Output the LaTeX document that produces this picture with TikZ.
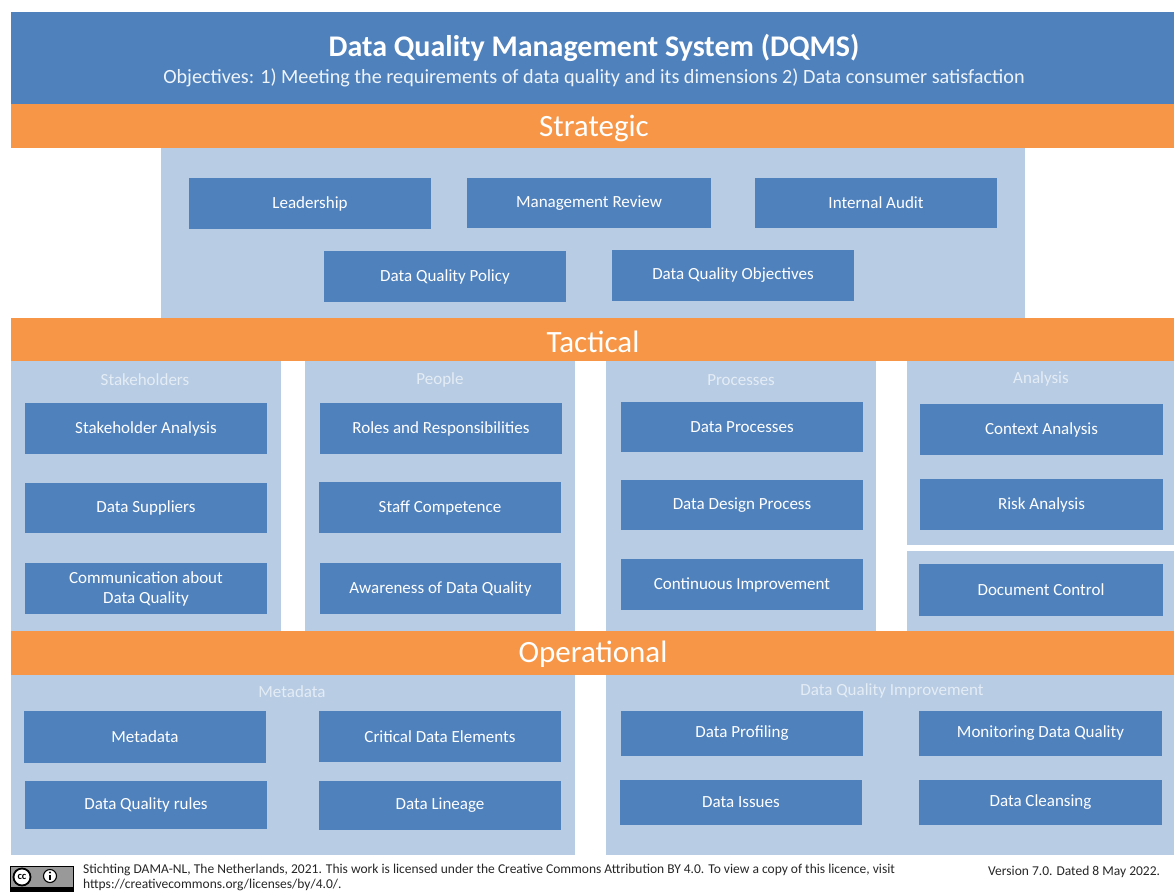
\documentclass[tikz,border=0pt]{standalone}
\usepackage{fontspec}
\setmainfont{Carlito}
\definecolor{hdrblue}{HTML}{4F81BD}
\definecolor{panelblue}{HTML}{B8CCE4}
\definecolor{bandorange}{HTML}{F79646}
\definecolor{labeltxt}{HTML}{E4ECF5}
\tikzset{
  rectbase/.style={draw=none,inner sep=0pt,outer sep=0pt,align=center,text=white},
  bluebox/.style={rectbase,fill=hdrblue,font=\fontsize{17}{20}\selectfont},
  panel/.style={rectbase,fill=panelblue},
  band/.style={rectbase,fill=bandorange},
  bandlabel/.style={inner sep=0pt,text=white,font=\fontsize{31}{34}\selectfont},
  panellabel/.style={inner sep=0pt,text=labeltxt,font=\fontsize{17}{20}\selectfont},
  foot/.style={inner sep=0pt,anchor=base west,text=black!85,font=\fontsize{13.5}{15}\selectfont},
}
\newcommand{\rbox}[7][]{%
  \pgfmathsetmacro{\cxx}{(#4+#6)/2}\pgfmathsetmacro{\cyy}{(#5+#7)/2}
  \pgfmathsetmacro{\wxx}{#6-#4}\pgfmathsetmacro{\hyy}{#7-#5}
  \node[#3,minimum width=\wxx pt,minimum height=\hyy pt,#1] (#2) at (\cxx,\cyy)}
\begin{document}
\begin{tikzpicture}[x=1pt,y=-1pt]
\useasboundingbox (0,0) rectangle (1174,891);
\clip (0,0) rectangle (1174,891);
% header
\rbox{hdr}{rectbase,fill=hdrblue}{11}{12}{1174}{104} {};
\node[inner sep=0pt,text=white,font=\bfseries\fontsize{30}{32}\selectfont] (title) at (594,48) {Data Quality Management System (DQMS)};
\node[inner sep=0pt,text=labeltxt!60!white,font=\fontsize{20.2}{22}\selectfont] (subtitle) at (594,78) {Objectives: 1) Meeting the requirements of data quality and its dimensions 2) Data consumer satisfaction};
% panels
\rbox{pstrat}{panel}{161}{148}{1025}{318} {};
\rbox{pstake}{panel}{11}{361}{281}{631} {};
\rbox{ppeople}{panel}{305}{361}{575}{631} {};
\rbox{pproc}{panel}{606}{361}{876}{631} {};
\rbox{panal}{panel}{907}{361}{1174}{545} {};
\rbox{pdoc}{panel}{907}{551}{1174}{631} {};
\rbox{pmeta}{panel}{11}{675}{575}{855} {};
\rbox{pdqi}{panel}{606}{675}{1174}{855} {};
% bands
\rbox{bstrat}{band}{11}{104}{1174}{148} {};
\node[bandlabel] (lstrat) at (594,128) {Strategic};
\rbox{btact}{band}{11}{318}{1174}{361} {};
\node[bandlabel] (ltact) at (593,342) {Tactical};
\rbox{bop}{band}{11}{631}{1174}{675} {};
\node[bandlabel] (lop) at (593,654) {Operational};
% panel labels
\node[panellabel] (t1) at (145,380) {Stakeholders};
\node[panellabel] (t2) at (440,380) {People};
\node[panellabel] (t3) at (741,380) {Processes};
\node[panellabel] (t4) at (1041,379) {Analysis};
\node[panellabel] (t5) at (292,692) {Metadata};
\node[panellabel] (t6) at (892,691) {Data Quality Improvement};
% strategic
\rbox{b1}{bluebox}{189}{178}{431}{229} {Leadership};
\rbox{b2}{bluebox}{467}{178}{711}{228} {Management Review};
\rbox{b3}{bluebox}{755}{178}{997}{228} {Internal Audit};
\rbox{b4}{bluebox}{324}{251}{566}{302} {Data Quality Policy};
\rbox{b5}{bluebox}{612}{250}{854}{301} {Data Quality Objectives};
% tactical
\rbox{b6}{bluebox}{25}{403}{267}{454} {Stakeholder Analysis};
\rbox{b7}{bluebox}{25}{483}{267}{533} {Data Suppliers};
\rbox{b8}{bluebox}{25}{563}{267}{614} {Communication about\\Data Quality};
\rbox{b9}{bluebox}{320}{403}{562}{454} {Roles and Responsibilities};
\rbox{b10}{bluebox}{319}{482}{561}{533} {Staff Competence};
\rbox{b11}{bluebox}{320}{563}{561}{614} {Awareness of Data Quality};
\rbox{b12}{bluebox}{621}{402}{863}{452} {Data Processes};
\rbox{b13}{bluebox}{621}{480}{863}{530} {Data Design Process};
\rbox{b14}{bluebox}{621}{559}{863}{610} {Continuous Improvement};
\rbox{b15}{bluebox}{920}{404}{1163}{455} {Context Analysis};
\rbox{b16}{bluebox}{920}{479}{1163}{530} {Risk Analysis};
\rbox{b17}{bluebox}{919}{564}{1163}{616} {Document Control};
% operational
\rbox{b18}{bluebox}{24}{711}{266}{763} {Metadata};
\rbox{b19}{bluebox}{319}{711}{561}{762} {Critical Data Elements};
\rbox{b20}{bluebox}{25}{781}{267}{829} {Data Quality rules};
\rbox{b21}{bluebox}{319}{781}{561}{830} {Data Lineage};
\rbox{b22}{bluebox}{621}{711}{863}{756} {Data Profiling};
\rbox{b23}{bluebox}{919}{711}{1162}{756} {Monitoring Data Quality};
\rbox{b24}{bluebox}{620}{780}{862}{825} {Data Issues};
\rbox{b25}{bluebox}{919}{780}{1162}{825} {Data Cleansing};
% footer
\fill[black!40] (10,866) rectangle (73,891);
\fill[black] (10,887) rectangle (73,891);
\draw[black,line width=1pt] (10,866) rectangle (73,891);
\draw[black,line width=1.8pt,fill=white] (22,877) circle (8.5);
\node[inner sep=0pt,font=\bfseries\fontsize{10.5}{10}\selectfont,text=black] (cc) at (22,876.5) {cc};
\draw[black,line width=1.1pt,fill=white] (50,876) circle (6.5);
\fill[black] (50,872.5) circle (1.2);
\fill[black] (48.8,874.5) rectangle (51.2,880);
\node[foot] (f1) at (83,873) {Stichting DAMA-NL, The Netherlands, 2021. This work is licensed under the Creative Commons Attribution BY 4.0. To view a copy of this licence, visit};
\node[foot] (f2) at (83,888) {https://creativecommons.org/licenses/by/4.0/.};
\node[foot] (f3) at (988,875) {Version 7.0. Dated 8 May 2022.};
\end{tikzpicture}
\end{document}
